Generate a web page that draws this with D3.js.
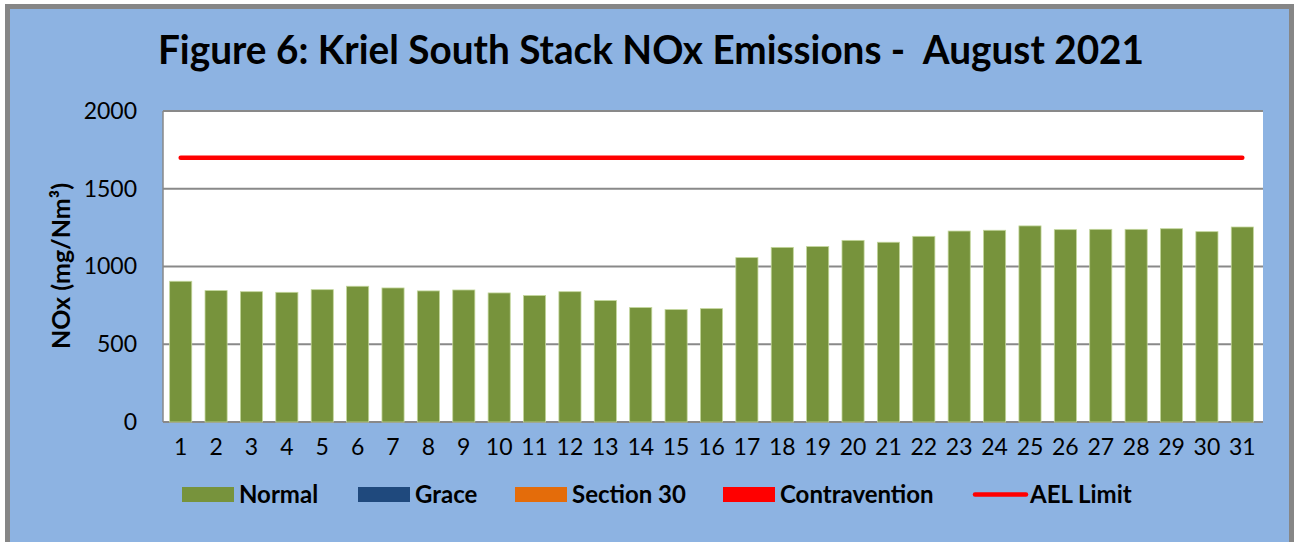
<!DOCTYPE html>
<html>
<head>
<meta charset="utf-8">
<script src="https://cdn.jsdelivr.net/npm/d3@7"></script>
<style>
  html, body { margin: 0; padding: 0; background: #fff; }
  svg { display: block; }
  text { font-family: Lato, "Open Sans", sans-serif; fill: #000; }
</style>
</head>
<body>
<div id="holder"></div>
<script>
const days = ['1','2','3','4','5','6','7','8','9','10','11','12','13','14','15','16',
              '17','18','19','20','21','22','23','24','25','26','27','28','29','30','31'];
const normal = [905, 845, 838, 834, 851, 873, 862, 843, 849, 830, 813, 838, 781, 736, 723, 729,
                1057, 1123, 1128, 1168, 1156, 1194, 1228, 1233, 1261, 1237, 1239, 1239, 1243, 1224, 1254];
const aelLimit = 1700;
const yTicks = [0, 500, 1000, 1500, 2000];
const legendNames = ['Normal', 'Grace', 'Section 30', 'Contravention', 'AEL Limit'];
const legendColors = ['#77933C', '#1F497D', '#E46C0A', '#FF0000', '#FF0000'];

const w = 1300;
const h = 542;
const plot = { left: 163, right: 1260, top: 111, bottom: 422 };

const svg = d3.select('#holder')
    .append('svg')
    .attr('width', w)
    .attr('height', h);

// background + outer frame
svg.append('rect')
    .attr('x', 7.5).attr('y', 6.5)
    .attr('width', 1284).attr('height', 600)
    .attr('fill', '#8DB3E2')
    .attr('stroke', '#868686')
    .attr('stroke-width', 5);

// plot area
svg.append('rect')
    .attr('x', plot.left).attr('y', plot.top)
    .attr('width', 1263 - plot.left).attr('height', plot.bottom - plot.top)
    .attr('fill', '#fff');

const xScale = d3.scaleBand()
    .domain(days)
    .range([plot.left, plot.right])
    .paddingInner(0.375)
    .paddingOuter(0.1875);

const yScale = d3.scaleLinear()
    .domain([0, 2000])
    .range([plot.bottom, plot.top]);

// gridlines
svg.append('g')
    .selectAll('line')
    .data(yTicks)
    .enter()
    .append('line')
    .attr('x1', plot.left)
    .attr('x2', 1263)
    .attr('y1', d => yScale(d))
    .attr('y2', d => yScale(d))
    .attr('stroke', '#898989')
    .attr('stroke-width', 1.8);

svg.append('line')
    .attr('x1', plot.left).attr('x2', plot.left)
    .attr('y1', plot.top).attr('y2', plot.bottom)
    .attr('stroke', '#898989')
    .attr('stroke-width', 1.5);

// y axis labels
const yAxis = d3.axisLeft(yScale)
    .tickValues(yTicks)
    .tickFormat(d3.format('d'))
    .tickSize(0)
    .tickPadding(26);
svg.append('g')
    .attr('transform', 'translate(' + plot.left + ',0)')
    .call(yAxis)
    .call(g => g.select('.domain').remove())
    .selectAll('text')
    .style('font-family', 'Lato, sans-serif')
    .style('font-size', '23px')
    .attr('fill', '#000');

// x axis labels
const xAxis = d3.axisBottom(xScale).tickSize(0).tickPadding(17);
svg.append('g')
    .attr('transform', 'translate(0,' + plot.bottom + ')')
    .call(xAxis)
    .call(g => g.select('.domain').remove())
    .selectAll('text')
    .style('font-family', 'Lato, sans-serif')
    .style('font-size', '23px')
    .attr('fill', '#000');

// bars
svg.append('g')
    .selectAll('rect')
    .data(normal)
    .enter()
    .append('rect')
    .attr('x', (_, i) => xScale(days[i]))
    .attr('y', d => yScale(d))
    .attr('width', xScale.bandwidth())
    .attr('height', d => plot.bottom - yScale(d))
    .attr('fill', '#77933C')
    .attr('stroke', '#C3D69B')
    .attr('stroke-width', 0.8);

// AEL limit line
svg.append('line')
    .attr('x1', xScale(days[0]) + xScale.bandwidth() / 2)
    .attr('x2', xScale(days[days.length - 1]) + xScale.bandwidth() / 2)
    .attr('y1', yScale(aelLimit))
    .attr('y2', yScale(aelLimit))
    .attr('stroke', '#FF0000')
    .attr('stroke-width', 4.5)
    .attr('stroke-linecap', 'round');

// title
svg.append('text')
    .attr('x', 158)
    .attr('y', 64)
    .attr('textLength', 986)
    .attr('lengthAdjust', 'spacingAndGlyphs')
    .style('font-size', '40px')
    .style('font-weight', 'bold')
    .style('white-space', 'pre')
    .text('Figure 6: Kriel South Stack NOx Emissions -  August 2021');

// y axis title
svg.append('text')
    .attr('transform', 'translate(70,266) rotate(-90)')
    .attr('text-anchor', 'middle')
    .style('font-size', '25px')
    .style('font-weight', 'bold')
    .text('NOx (mg/Nm³)');

// legend
const legendX = [182, 358, 515, 723, 973];
const legend = svg.append('g');
legendNames.forEach((name, i) => {
    if (i < 4) {
        legend.append('rect')
            .attr('x', legendX[i]).attr('y', 487)
            .attr('width', 52).attr('height', 15)
            .attr('fill', legendColors[i]);
    } else {
        legend.append('line')
            .attr('x1', legendX[i] + 2).attr('x2', legendX[i] + 53)
            .attr('y1', 494.5).attr('y2', 494.5)
            .attr('stroke', legendColors[i])
            .attr('stroke-width', 4.5)
            .attr('stroke-linecap', 'round');
    }
    legend.append('text')
        .attr('x', legendX[i] + 57)
        .attr('y', 503)
        .style('font-size', '24px')
        .style('font-weight', 'bold')
        .text(name);
});
</script>
</body>
</html>
